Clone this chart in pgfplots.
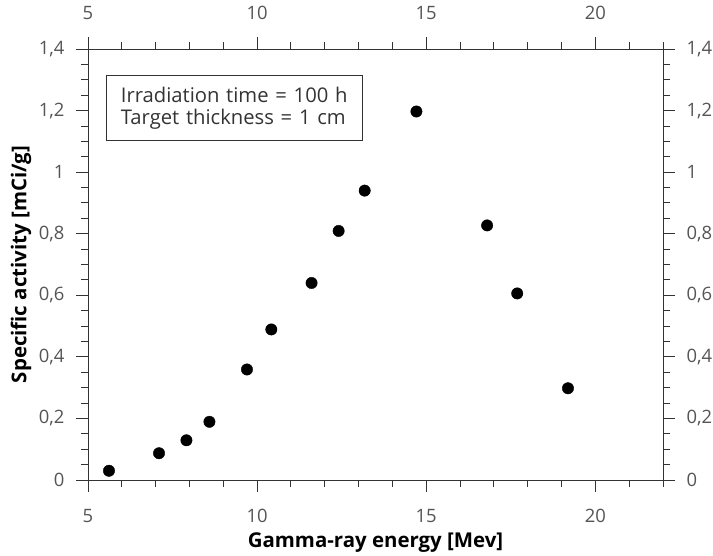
\documentclass[border=0pt]{standalone}
\usepackage{pgfplots}
\pgfplotsset{compat=1.18}
\usepackage{fontspec}
\setmainfont{Open Sans}
\definecolor{tickgray}{HTML}{555555}
\definecolor{axgray}{HTML}{333333}
\begin{document}
\begin{tikzpicture}
\useasboundingbox (-88bp,-76bp) rectangle (625bp,480bp);
\begin{axis}[
  scale only axis,
  width=575bp, height=431bp,
  xmin=5, xmax=22, ymin=0, ymax=1.4,
  axis line style={axgray, line width=0.9pt},
  tick style={axgray, line width=0.9pt},
  tick align=outside,
  major tick length=12bp, minor tick length=7bp,
  xtick={5,10,15,20}, minor xtick={6,7,8,9,11,12,13,14,16,17,18,19,21,22},
  ytick={0,0.2,0.4,0.6,0.8,1,1.2,1.4},
  minor ytick={0.05,0.1,0.15,0.25,0.3,0.35,0.45,0.5,0.55,0.65,0.7,0.75,0.85,0.9,0.95,1.05,1.1,1.15,1.25,1.3,1.35},
  xtick pos=both, ytick pos=both,
  xticklabel pos=lower, yticklabel pos=left,
  xticklabel shift=14bp, yticklabel shift=8bp,
  /pgf/number format/assume math mode=true,
  /pgf/number format/use comma,
  ticklabel style={font=\fontsize{18.5}{22}\selectfont, text=tickgray},
  extra x ticks={5,10,15,20}, extra x tick style={xticklabel pos=upper, tick style={draw=none}},
  extra y ticks={0,0.2,0.4,0.6,0.8,1,1.2,1.4}, extra y tick style={yticklabel pos=right, tick style={draw=none}},
  xlabel={\bfseries Gamma-ray energy [Mev]},
  ylabel={\bfseries Specific activity [mCi/g]},
  label style={font=\fontsize{20.5}{24}\selectfont},
  xlabel style={at={(axis description cs:0.5,-0.146)}, anchor=center},
  ylabel style={at={(axis description cs:-0.1165,0.5)}, anchor=center},
  clip=false,
]
\addplot[only marks, mark=*, mark size=5.7bp, black] coordinates {
(5.62,0.030) (7.10,0.087) (7.91,0.129) (8.59,0.189) (9.70,0.359)
(10.42,0.489) (11.61,0.640) (12.41,0.809) (13.18,0.940) (14.71,1.197)
(16.80,0.827) (17.69,0.606) (19.19,0.298)
};
\node[draw=axgray, line width=0.9pt, anchor=north west, align=left, text=axgray,
  font=\fontsize{20.3}{22.5}\selectfont, text width=227bp, minimum height=65bp, inner xsep=14.5bp]
  at (axis cs:5.53,1.315) {Irradiation time = 100 h\\Target thickness = 1 cm};
\end{axis}
\end{tikzpicture}
\end{document}
